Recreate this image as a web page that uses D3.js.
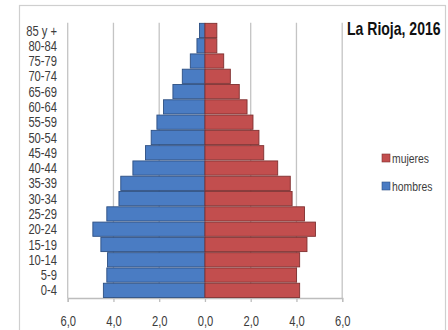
<!DOCTYPE html>
<html>
<head>
<meta charset="utf-8">
<script src="https://cdn.jsdelivr.net/npm/d3@7"></script>
<style>
  body { margin: 0; background: #fff; }
  text { font-family: "Liberation Sans", Arial, sans-serif; }
</style>
</head>
<body>
<svg id="chart" width="448" height="330"></svg>
<script>
// Population pyramid, La Rioja 2016 (% of total population per age group)
const ageGroups = ["0-4", "5-9", "10-14", "15-19", "20-24", "25-29", "30-34", "35-39",
  "40-44", "45-49", "50-54", "55-59", "60-64", "65-69", "70-74", "75-79", "80-84", "85 y +"];
const hombres = [4.44, 4.29, 4.26, 4.55, 4.90, 4.29, 3.76, 3.68, 3.15, 2.60, 2.35, 2.10, 1.81, 1.40, 0.99, 0.64, 0.35, 0.24];
const mujeres = [4.14, 4.00, 4.14, 4.46, 4.83, 4.35, 3.81, 3.73, 3.18, 2.57, 2.36, 2.10, 1.84, 1.50, 1.11, 0.82, 0.52, 0.52];
const xTicks = [-6, -4, -2, 0, 2, 4, 6];
const legendNames = ["mujeres", "hombres"];
const chartTitle = "La Rioja, 2016";

const colors = {
  hombres: { fill: "#4a7cc3", stroke: "#2d4f82" },
  mujeres: { fill: "#c24e4e", stroke: "#7f3030" }
};

// horizontal squeeze giving the narrow lettering
const NARROW = 0.8;

const svg = d3.select("#chart");

// outer chart frame
svg.append("rect")
  .attr("x", 19.5).attr("y", 5.5)
  .attr("width", 426).attr("height", 340)
  .attr("fill", "none").attr("stroke", "#cfcfcf").attr("stroke-width", 1.2);

const plot = { left: 67.7, right: 342.2, top: 22.8, bottom: 298 };

const x = d3.scaleLinear().domain([-6, 6]).range([plot.left, plot.right]);
const y = d3.scaleBand()
  .domain(ageGroups.slice().reverse())
  .range([plot.top, plot.bottom])
  .paddingInner(0.07)
  .paddingOuter(0.035);

// vertical gridlines
svg.append("g").selectAll("line")
  .data(xTicks.filter(d => d !== 0))
  .join("line")
  .attr("x1", d => x(d)).attr("x2", d => x(d))
  .attr("y1", plot.top).attr("y2", plot.bottom)
  .attr("stroke", "#c4c4c4").attr("stroke-width", 1.3);

// bottom axis
const fmt = d3.format(".1f");
const xAxis = d3.axisBottom(x)
  .tickValues(xTicks)
  .tickSize(4)
  .tickPadding(14)
  .tickFormat(d => fmt(Math.abs(d)).replace(".", ","));

const gx = svg.append("g")
  .attr("transform", `translate(0,${plot.bottom})`)
  .call(xAxis);
gx.select(".domain").attr("stroke", "#bdbdbd").attr("stroke-width", 1.3);
gx.selectAll(".tick line").attr("stroke", "#bdbdbd").attr("stroke-width", 1.3);
gx.selectAll(".tick text")
  .attr("fill", "#3c3c3c")
  .attr("transform", `scale(${NARROW},1)`)
  .style("font-size", "14px");

// male bars (left)
svg.append("g").selectAll("rect")
  .data(ageGroups.map((g, i) => ({ g, v: hombres[i] })))
  .join("rect")
  .attr("x", d => x(-d.v))
  .attr("y", d => y(d.g))
  .attr("width", d => x(0) - x(-d.v))
  .attr("height", y.bandwidth())
  .attr("fill", colors.hombres.fill)
  .attr("stroke", colors.hombres.stroke)
  .attr("stroke-width", 0.9);

// female bars (right)
svg.append("g").selectAll("rect")
  .data(ageGroups.map((g, i) => ({ g, v: mujeres[i] })))
  .join("rect")
  .attr("x", x(0))
  .attr("y", d => y(d.g))
  .attr("width", d => x(d.v) - x(0))
  .attr("height", y.bandwidth())
  .attr("fill", colors.mujeres.fill)
  .attr("stroke", colors.mujeres.stroke)
  .attr("stroke-width", 0.9);

// age group labels
svg.append("g").selectAll("text")
  .data(ageGroups)
  .join("text")
  .attr("transform", d => `translate(57,${y(d) + y.bandwidth() / 2}) scale(${NARROW},1)`)
  .attr("dy", "0.36em")
  .attr("text-anchor", "end")
  .attr("fill", "#3c3c3c")
  .style("font-size", "14px")
  .text(d => d);

// title
svg.append("text")
  .attr("transform", `translate(347,35) scale(0.78,1)`)
  .attr("fill", "#111")
  .style("font-size", "18px")
  .style("font-weight", "bold")
  .text(chartTitle);

// legend
const legendY = { mujeres: 158, hombres: 186 };
const lg = svg.append("g").selectAll("g")
  .data(legendNames)
  .join("g")
  .attr("transform", d => `translate(382,${legendY[d]})`);
lg.append("rect")
  .attr("x", 0).attr("y", -4)
  .attr("width", 8).attr("height", 8)
  .attr("fill", d => colors[d].fill)
  .attr("stroke", d => colors[d].stroke)
  .attr("stroke-width", 0.6);
lg.append("text")
  .attr("transform", `translate(10,0) scale(${NARROW},1)`)
  .attr("dy", "0.36em")
  .attr("fill", "#3c3c3c")
  .style("font-size", "13px")
  .text(d => d);
</script>
</body>
</html>
